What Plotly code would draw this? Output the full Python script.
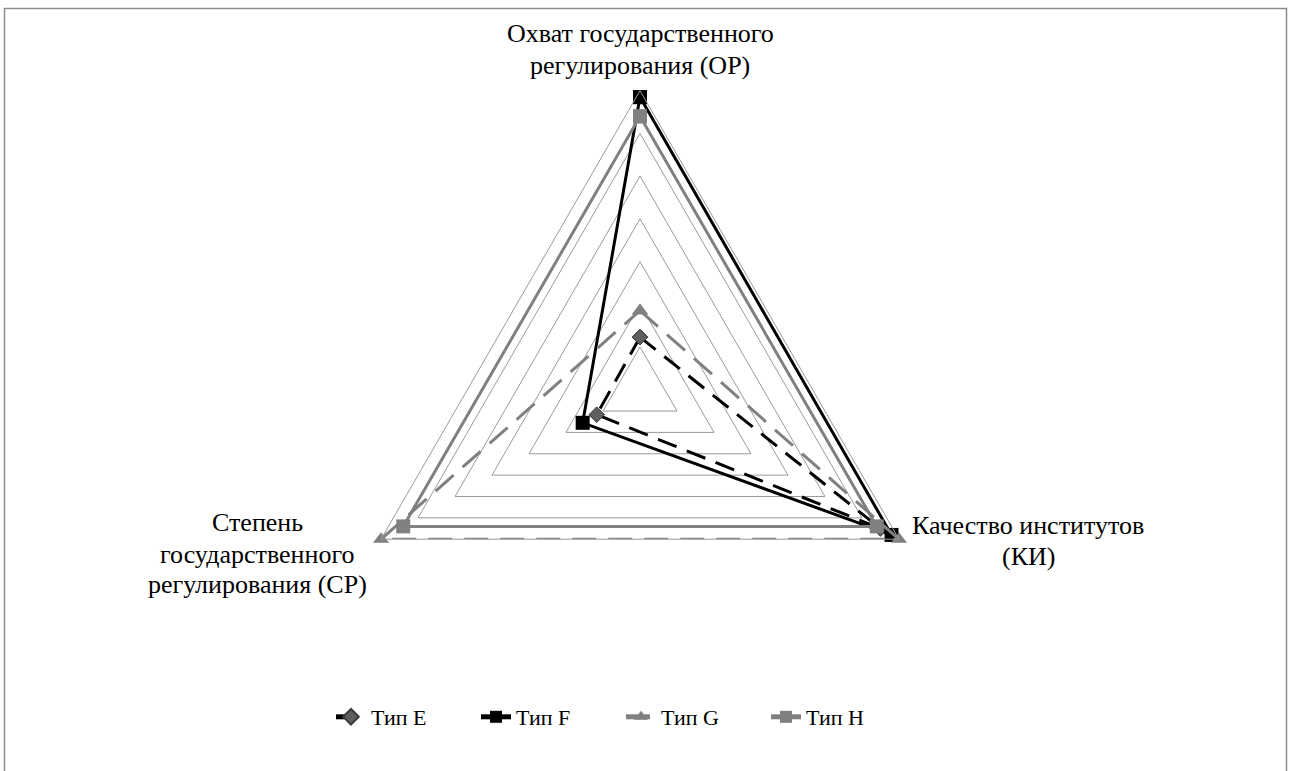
import plotly.graph_objects as go

categories = ["Охват государственного регулирования (ОР)",
              "Качество институтов (КИ)",
              "Степень государственного регулирования (СР)"]
label_lines = [["Охват государственного", "регулирования (ОР)"],
               ["Качество институтов", "(КИ)"],
               ["Степень", "государственного", "регулирования (СР)"]]
series_names = ["Тип E", "Тип F", "Тип G", "Тип H"]
type_e = [1.23, 6.5, 1.17]
type_f = [6.85, 6.8, 1.55]
type_g = [1.85, 7.0, 7.0]
type_h = [6.4, 6.4, 6.4]
radial_ticks = [0, 1, 2, 3, 4, 5, 6, 7]

W, H = 1291, 771
cx, cy, R = 640.0, 389.7, 299.0
FONT = "Times New Roman, Liberation Serif, DejaVu Serif, serif"

styles = [
    dict(line=dict(color="black", width=3, dash="20px,11px"),
         marker=dict(symbol="diamond", size=12, color="#5f5f5f", line=dict(color="#3a3a3a", width=1))),
    dict(line=dict(color="black", width=3),
         marker=dict(symbol="square", size=14, color="black")),
    dict(line=dict(color="#808080", width=3, dash="24px,12px"),
         marker=dict(symbol="triangle-up", size=14, color="#808080")),
    dict(line=dict(color="#808080", width=3),
         marker=dict(symbol="square", size=14, color="#808080")),
]

fig = go.Figure()
for name, vals, st in zip(series_names, [type_e, type_f, type_g, type_h], styles):
    fig.add_trace(go.Scatterpolar(
        r=vals + vals[:1], theta=categories + categories[:1],
        mode="lines+markers", name=name, line=st["line"], marker=st["marker"],
    ))

fig.update_layout(
    width=W, height=H,
    margin=dict(l=0, r=0, t=0, b=0),
    paper_bgcolor="white",
    font=dict(family=FONT, size=22, color="black"),
    showlegend=True,
    legend=dict(orientation="h", x=331 / W, xanchor="left", y=(H - 717) / H, yanchor="middle",
                font=dict(family=FONT, size=22, color="black"),
                entrywidth=100, entrywidthmode="pixels", itemsizing="constant"),
    polar=dict(
        domain=dict(x=[(cx - R) / W, (cx + R) / W], y=[(H - cy - R) / H, (H - cy + R) / H]),
        bgcolor="white",
        gridshape="linear",
        radialaxis=dict(range=[0, 7], tickvals=radial_ticks, showticklabels=False, ticks="",
                        showline=False, gridcolor="#9a9a9a", gridwidth=1),
        angularaxis=dict(direction="clockwise", rotation=90, showgrid=False, showline=True,
                         linecolor="#9a9a9a", linewidth=1, ticks="", showticklabels=False),
    ),
)

# category labels, one annotation per line (Excel-like line spacing)
label_x = [640, 1028, 257]
label_y = [[34, 65], [525, 556], [522, 554, 584]]
for lines, x, ys in zip(label_lines, label_x, label_y):
    for line, y in zip(lines, ys):
        fig.add_annotation(text=line, x=x / W, y=1 - y / H, xref="paper", yref="paper",
                           xanchor="center", yanchor="middle", showarrow=False,
                           font=dict(family=FONT, size=26, color="black"))

# chart-area border
fig.add_shape(type="rect", xref="paper", yref="paper",
              x0=4.5 / W, x1=1286.5 / W, y0=-0.05, y1=1 - 8.5 / H,
              line=dict(color="#8c8c8c", width=1.5), fillcolor="rgba(0,0,0,0)", layer="below")

fig.write_html("out.html", config={"displayModeBar": False},
               post_script="document.body.style.margin='0';document.body.style.overflow='hidden';")
